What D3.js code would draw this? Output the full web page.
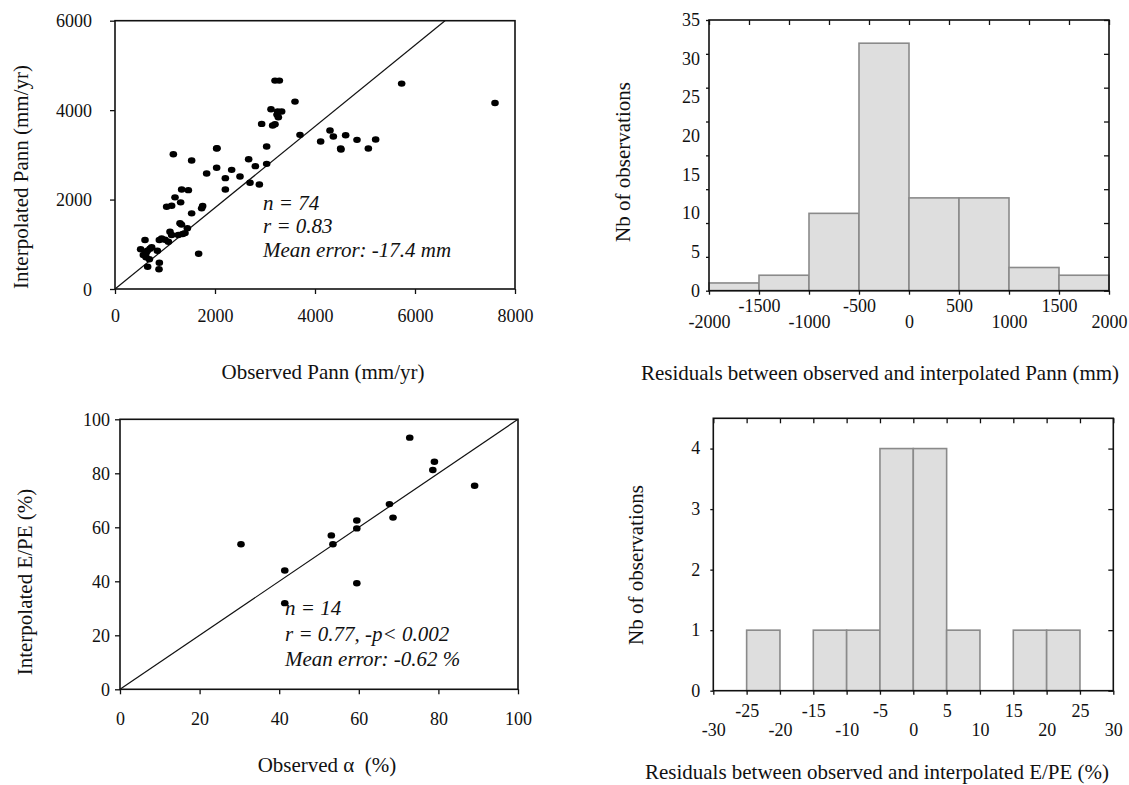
<!DOCTYPE html>
<html><head><meta charset="utf-8">
<script src="https://cdn.jsdelivr.net/npm/d3@7"></script>
<style>
body{margin:0;background:#fff;}
svg{display:block;font-family:"Liberation Serif","Times New Roman",serif;}
</style></head><body>
<svg id="chart" width="1129" height="785"></svg>
<script>
// ---------- DATA ----------
// Panel 1: observed vs interpolated annual precipitation (mm/yr)
const pannObserved = [7600,5733,3200,3287,3600,3120,3253,3333,3267,2933,3153,3200,3700,4300,4367,4613,4113,4513,4840,5067,5213,3033,2033,1167,1533,2673,2807,3033,2033,2333,1833,2500,2207,2700,2887,2207,1333,1467,1200,1313,1033,1133,1533,1733,1753,1300,1330,1447,1100,1353,1267,1133,933,887,1067,600,733,513,847,647,567,620,687,887,653,880,1673,620,700,1000,1400,3240,2040,4520];
const pannInterpolated = [4161,4593,4660,4660,4191,4020,3968,3968,3841,3692,3655,3685,3447,3543,3409,3439,3298,3141,3335,3141,3342,3186,3141,3015,2873,2903,2747,2799,2710,2665,2583,2516,2479,2375,2337,2226,2226,2211,2050,1938,1841,1863,1692,1804,1856,1469,1440,1357,1281,1230,1207,1207,1133,1096,1058,1096,932,888,856,856,760,709,664,588,499,440,789,800,900,1100,1250,3900,3150,3120];
const pannXTicks = [0,2000,4000,6000,8000];
const pannYTicks = [0,2000,4000,6000];
const pannLineX = [0,6600];
const pannLineY = [0,6000];
const pannStats = ["n = 74","r = 0.83","Mean error: -17.4 mm"];

// Panel 2: histogram of Pann residuals
const pannResidEdges = [-2000,-1500,-1000,-500,0,500,1000,1500,2000];
const pannResidCounts = [1,2,10,32,12,12,3,2];
const pannResidYLabels = [0,5,10,15,20,25,30,35];
const pannResidXLabels = ["-2000","-1500","-1000","-500","0","500","1000","1500","2000"];

// Panel 3: observed alpha vs interpolated E/PE (%)
const alphaObserved = [72.8,79.0,78.6,89.1,67.7,68.6,59.5,59.5,53.1,53.5,30.4,41.4,59.5,41.4];
const epeInterpolated = [93.2,84.3,81.2,75.4,68.6,63.6,62.5,59.6,57.0,53.7,53.7,44.0,39.3,31.9];
const alphaTicks = [0,20,40,60,80,100];
const alphaLineX = [0,100];
const alphaLineY = [0,100];
const alphaStats = ["n = 14","r = 0.77, -p< 0.002","Mean error: -0.62 %"];

// Panel 4: histogram of E/PE residuals
const epeResidEdges = [-30,-25,-20,-15,-10,-5,0,5,10,15,20,25,30];
const epeResidCounts = [0,1,0,1,1,4,4,1,0,1,1,0];
const epeResidYLabels = [0,1,2,3,4];
const epeResidXLabels = ["-30","-25","-20","-15","-10","-5","0","5","10","15","20","25","30"];

// ---------- DRAWING ----------
const svg = d3.select("#chart");
const FONT = '"Liberation Serif","Times New Roman",serif';
const INK = "#111";
const plain = d => String(d);

function styleAxis(g, fontSize){
  g.attr("font-family", FONT).attr("font-size", fontSize);
  g.select(".domain").remove();
  g.selectAll(".tick line").attr("stroke", INK).attr("stroke-width", 1.3);
  g.selectAll(".tick text").attr("fill", INK);
}

function frame(g, L, R, T, B){
  g.append("rect").attr("x", L).attr("y", T).attr("width", R - L).attr("height", B - T)
    .attr("fill", "none").attr("stroke", INK).attr("stroke-width", 1.6);
}

function scatter(c){
  const g = svg.append("g");
  const x = d3.scaleLinear().domain(c.xDomain).range([c.L, c.R]);
  const y = d3.scaleLinear().domain(c.yDomain).range([c.B, c.T]);

  g.append("path").datum(c.lineX.map((v, i) => [v, c.lineY[i]]))
    .attr("d", d3.line().x(d => x(d[0])).y(d => y(d[1])))
    .attr("fill", "none").attr("stroke", INK).attr("stroke-width", 1.2);

  g.selectAll("ellipse.pt").data(c.xs).join("ellipse").attr("class", "pt")
    .attr("cx", d => x(d)).attr("cy", (d, i) => y(c.ys[i]))
    .attr("rx", 3.8).attr("ry", 3.2).attr("fill", "#000");

  frame(g, c.L, c.R, c.T, c.B);

  const ax = g.append("g").attr("transform", `translate(0,${c.B})`)
    .call(d3.axisBottom(x).tickValues(c.xTicks).tickSize(5).tickFormat(plain));
  styleAxis(ax, 18);
  ax.selectAll(".tick text").attr("y", c.xLabelBase).attr("dy", null);

  const ay = g.append("g").attr("transform", `translate(${c.L},0)`)
    .call(d3.axisLeft(y).tickValues(c.yTicks).tickSize(5).tickPadding(c.yPad).tickFormat(plain));
  styleAxis(ay, 18);
  ay.selectAll(".tick text").attr("dy", "0.34em");

  // stats text
  const st = g.append("text").attr("font-family", FONT).attr("font-style", "italic")
    .attr("font-size", 21).attr("fill", INK);
  c.stats.forEach((s, i) => {
    st.append("tspan").attr("x", c.statX).attr("y", c.statY[i]).text(s);
  });

  // axis titles
  g.append("text").attr("font-family", FONT).attr("font-size", 21).attr("fill", INK)
    .attr("text-anchor", "middle").attr("x", c.xTitleX).attr("y", c.xTitleY).text(c.xTitle);
  g.append("text").attr("font-family", FONT).attr("font-size", 21).attr("fill", INK)
    .attr("text-anchor", "middle")
    .attr("transform", `translate(${c.yTitleX},${c.yTitleY}) rotate(-90)`).text(c.yTitle);
}

function histogram(c){
  const g = svg.append("g");
  const x = d3.scaleLinear().domain([c.edges[0], c.edges[c.edges.length - 1]]).range([c.L, c.R]);
  const y = d3.scaleLinear().domain([0, c.yMax]).range([c.B, c.T]);

  const bins = c.counts.map((n, i) => ({x0: c.edges[i], x1: c.edges[i + 1], n})).filter(d => d.n > 0);
  g.selectAll("rect.bar").data(bins).join("rect").attr("class", "bar")
    .attr("x", d => x(d.x0)).attr("width", d => x(d.x1) - x(d.x0))
    .attr("y", d => y(d.n)).attr("height", d => y(0) - y(d.n))
    .attr("fill", "#dedede").attr("stroke", "#8a8a8a").attr("stroke-width", 1.6);

  frame(g, c.L, c.R, c.T, c.B);

  // tick marks
  const bt = g.append("g").attr("transform", `translate(0,${c.B})`)
    .call(d3.axisBottom(x).tickValues(c.edges).tickSize(4).tickFormat(""));
  styleAxis(bt, 18);
  const tt = g.append("g").attr("transform", `translate(0,${c.T})`)
    .call(d3.axisTop(x).tickValues(c.topTicks).tickSize(-5).tickFormat(""));
  styleAxis(tt, 18);
  const lt = g.append("g").attr("transform", `translate(${c.L},0)`)
    .call(d3.axisLeft(y).tickValues(c.sideTicks).tickSize(3).tickFormat(""));
  styleAxis(lt, 18);
  const rt = g.append("g").attr("transform", `translate(${c.R},0)`)
    .call(d3.axisRight(y).tickValues(c.sideTicks).tickSize(-5).tickFormat(""));
  styleAxis(rt, 18);

  // labels
  const yl = g.append("g").attr("transform", `translate(${c.L},0)`)
    .call(d3.axisLeft(y).tickValues(c.yLabels).tickSize(0).tickPadding(c.yPad).tickFormat(plain));
  styleAxis(yl, 18);
  yl.selectAll(".tick text").attr("dy", "0.3em");

  const xl = g.append("g").attr("transform", `translate(0,${c.B})`)
    .call(d3.axisBottom(x).tickValues(c.xLabels.map(Number)).tickSize(0)
      .tickFormat((d, i) => c.xLabels[i]));
  styleAxis(xl, 18);
  xl.selectAll(".tick text").attr("dy", null)
    .attr("y", (d, i) => i % 2 === 0 ? c.lowRow : c.highRow);

  g.append("text").attr("font-family", FONT).attr("font-size", 21).attr("fill", INK)
    .attr("text-anchor", "middle").attr("x", c.xTitleX).attr("y", c.xTitleY).text(c.xTitle);
  g.append("text").attr("font-family", FONT).attr("font-size", 21).attr("fill", INK)
    .attr("text-anchor", "middle")
    .attr("transform", `translate(${c.yTitleX},${c.yTitleY}) rotate(-90)`).text(c.yTitle);
}

scatter({
  L: 115, R: 515, T: 20.7, B: 289,
  xDomain: [0, 8000], yDomain: [0, 6000],
  xs: pannObserved, ys: pannInterpolated,
  lineX: pannLineX, lineY: pannLineY,
  xTicks: pannXTicks, yTicks: pannYTicks,
  xLabelBase: 33, yPad: 18,
  stats: pannStats, statX: 263, statY: [210, 233, 257],
  xTitle: "Observed Pann (mm/yr)", xTitleX: 323, xTitleY: 379,
  yTitle: "Interpolated Pann (mm/yr)", yTitleX: 28, yTitleY: 177
});

scatter({
  L: 120, R: 518, T: 419.3, B: 689.3,
  xDomain: [0, 100], yDomain: [0, 100],
  xs: alphaObserved, ys: epeInterpolated,
  lineX: alphaLineX, lineY: alphaLineY,
  xTicks: alphaTicks, yTicks: alphaTicks,
  xLabelBase: 36, yPad: 5,
  stats: alphaStats, statX: 285, statY: [615, 640.5, 666],
  xTitle: "Observed \u03b1\u00a0 (%)", xTitleX: 327, xTitleY: 772,
  yTitle: "Interpolated E/PE (%)", yTitleX: 32, yTitleY: 582
});

histogram({
  L: 709, R: 1109, T: 20, B: 290.7,
  edges: pannResidEdges, counts: pannResidCounts, yMax: 35,
  topTicks: d3.range(0, 11).map(i => -2000 + i * 400),
  sideTicks: d3.range(0, 9).map(i => i * 35 / 8),
  yLabels: pannResidYLabels, xLabels: pannResidXLabels, yPad: 9,
  lowRow: 37.5, highRow: 21,
  xTitle: "Residuals between observed and interpolated Pann (mm)", xTitleX: 880, xTitleY: 380,
  yTitle: "Nb of observations", yTitleX: 630, yTitleY: 162
});

histogram({
  L: 713.3, R: 1113.3, T: 418.3, B: 690.7,
  edges: epeResidEdges, counts: epeResidCounts, yMax: 4.5,
  topTicks: epeResidEdges,
  sideTicks: epeResidYLabels,
  yLabels: epeResidYLabels, xLabels: epeResidXLabels, yPad: 13,
  lowRow: 45, highRow: 26.6,
  xTitle: "Residuals between observed and interpolated E/PE (%)", xTitleX: 877, xTitleY: 779,
  yTitle: "Nb of observations", yTitleX: 643, yTitleY: 565
});
</script></body></html>
